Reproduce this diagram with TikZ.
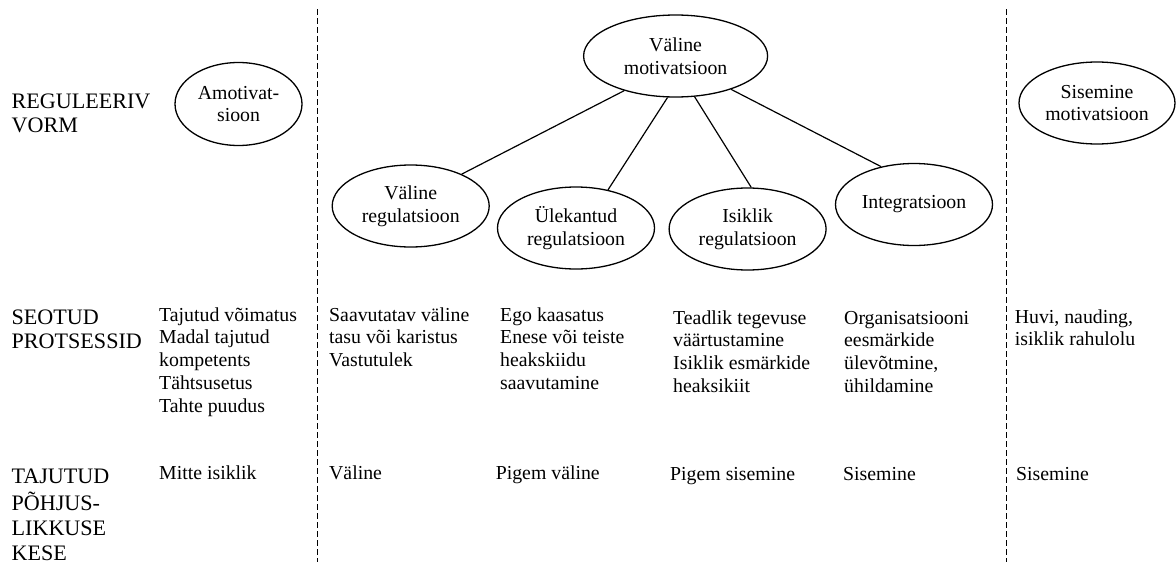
\documentclass[tikz,border=0pt]{standalone}
\usepackage{fontspec}
\setmainfont{Liberation Serif}
\usetikzlibrary{shapes.geometric}
\newcommand\txtA{\fontsize{19.8}{22.8}\selectfont}
\newcommand\txtB{\fontsize{22.1}{24.8}\selectfont}
\tikzset{
  oval/.style={ellipse, draw, line width=1.3pt, inner sep=0pt, align=center, font=\txtA},
  conn/.style={line width=1.2pt},
  sep/.style={line width=1pt, dash pattern=on 6pt off 3pt},
  body/.style={anchor=north west, inner sep=0pt, align=left, font=\txtA},
  rowlabel/.style={anchor=north west, inner sep=0pt, align=left, font=\txtB}
}
\begin{document}
\begin{tikzpicture}[x=1pt,y=-1pt]
\useasboundingbox (0,0) rectangle (1176,562);
% separators
\coordinate (s1t) at (317,9); \coordinate (s1b) at (317,562);
\coordinate (s2t) at (1006.5,9); \coordinate (s2b) at (1006.5,562);
\draw[sep] (s1t) -- (s1b);
\draw[sep] (s2t) -- (s2b);
% ellipses
\node[oval, minimum width=127pt, minimum height=83pt] (amo) at (238.5,104) {Amotivat-\\sioon};
\node[oval, minimum width=184pt, minimum height=82pt] (vm) at (675.6,56) {Väline\\motivatsioon};
\node[oval, minimum width=157pt, minimum height=82pt] (vr) at (410.7,206) {Väline\\regulatsioon};
\node[oval, minimum width=157pt, minimum height=82pt] (ul) at (576,228) {Ülekantud\\regulatsioon};
\node[oval, minimum width=157pt, minimum height=82pt] (is) at (747.6,229) {Isiklik\\regulatsioon};
\node[oval, minimum width=157pt, minimum height=82pt] (in) at (914,204.5) {Integratsioon};
\node[oval, minimum width=156pt, minimum height=82pt] (sm) at (1097,103) {Sisemine\\motivatsioon};
% connectors
\draw[conn] (vm.214) -- (vr.32);
\draw[conn] (vm.259) -- (ul.50);
\draw[conn] (vm.295) -- (is.85);
\draw[conn] (vm.329) -- (in.131);
% row labels
\node[rowlabel] (l1) at (11.5,90.5) {\strut REGULEERIV\\VORM};
\node[rowlabel] (l2) at (11.5,306.5) {\strut SEOTUD\\PROTSESSID};
\node[rowlabel] (l3) at (11.5,466) {\strut TAJUTUD\\PÕHJUS-\\LIKKUSE\\KESE};
% processes
\node[body] (p1) at (159,305) {\strut Tajutud võimatus\\Madal tajutud\\kompetents\\Tähtsusetus\\Tahte puudus};
\node[body] (p2) at (329,305) {\strut Saavutatav väline\\tasu või karistus\\Vastutulek};
\node[body] (p3) at (500,305) {\strut Ego kaasatus\\Enese või teiste\\heakskiidu\\saavutamine};
\node[body] (p4) at (673,308) {\strut Teadlik tegevuse\\väärtustamine\\Isiklik esmärkide\\heaksikiit};
\node[body] (p5) at (844,308) {\strut Organisatsiooni\\eesmärkide\\ülevõtmine,\\ühildamine};
\node[body] (p6) at (1014.6,307) {\strut Huvi, nauding,\\isiklik rahulolu};
% locus
\node[body] (c1) at (159,463) {\strut Mitte isiklik};
\node[body] (c2) at (329,463) {\strut Väline};
\node[body] (c3) at (495.6,463) {\strut Pigem väline};
\node[body] (c4) at (670,464) {\strut Pigem sisemine};
\node[body] (c5) at (843,464) {\strut Sisemine};
\node[body] (c6) at (1016,464) {\strut Sisemine};
\end{tikzpicture}
\end{document}
